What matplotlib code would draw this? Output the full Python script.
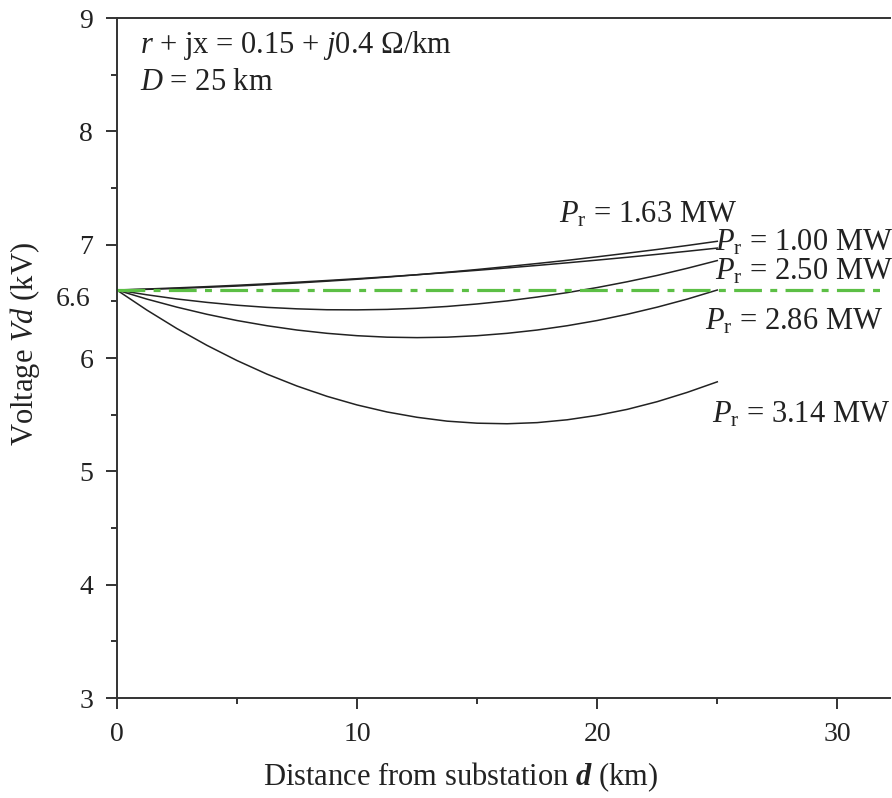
import matplotlib.pyplot as plt
from matplotlib.ticker import MultipleLocator

plt.rcParams['font.family'] = 'Liberation Serif'
plt.rcParams['mathtext.fontset'] = 'custom'
plt.rcParams['mathtext.rm'] = 'Liberation Serif'
plt.rcParams['mathtext.it'] = 'Liberation Serif:italic'
plt.rcParams['mathtext.bf'] = 'Liberation Serif:bold:italic'
plt.rcParams['lines.scale_dashes'] = False

# distance from substation (km) and voltage (kV)
dist = [0, 1.25, 2.5, 3.75, 5, 6.25, 7.5, 8.75, 10, 11.25, 12.5,
        13.75, 15, 16.25, 17.5, 18.75, 20, 21.25, 22.5, 23.75, 25]
v_163 = [6.600, 6.606, 6.614, 6.624, 6.635, 6.648, 6.662, 6.678, 6.695, 6.714, 6.735,
         6.757, 6.781, 6.807, 6.834, 6.862, 6.893, 6.925, 6.958, 6.993, 7.030]
v_100 = [6.600, 6.609, 6.619, 6.630, 6.642, 6.655, 6.669, 6.684, 6.700, 6.717, 6.735,
         6.754, 6.774, 6.795, 6.817, 6.840, 6.864, 6.889, 6.915, 6.942, 6.970]
v_250 = [6.600, 6.558, 6.521, 6.491, 6.466, 6.447, 6.434, 6.426, 6.425, 6.429, 6.439,
         6.455, 6.477, 6.504, 6.538, 6.577, 6.622, 6.673, 6.729, 6.792, 6.860]
v_286 = [6.600, 6.520, 6.449, 6.386, 6.331, 6.285, 6.247, 6.218, 6.197, 6.184, 6.180,
         6.184, 6.197, 6.218, 6.247, 6.285, 6.331, 6.386, 6.449, 6.520, 6.600]
v_314 = [6.600, 6.423, 6.260, 6.112, 5.978, 5.858, 5.753, 5.662, 5.586, 5.524, 5.477,
         5.443, 5.425, 5.420, 5.430, 5.455, 5.494, 5.547, 5.615, 5.697, 5.790]

nominal_x = [0, 31.9]
nominal_v = [6.6, 6.6]

fig = plt.figure(figsize=(8.92, 7.98), dpi=100)
ax = fig.add_axes([0.131, 0.1253, 0.867, 0.8521])

line_col = '#222222'
for v in [v_163, v_100, v_250, v_286, v_314]:
    ax.plot(dist, v, color=line_col, lw=1.1)

ax.plot(nominal_x, nominal_v, color='#5cbf45', lw=2.3,
        dashes=(20, 6, 5, 6))

ax.set_xlim(0, 32.2)
ax.set_ylim(3, 9)
ax.xaxis.set_major_locator(MultipleLocator(10))
ax.xaxis.set_minor_locator(MultipleLocator(5))
ax.yaxis.set_major_locator(MultipleLocator(1))
ax.yaxis.set_minor_locator(MultipleLocator(0.5))

ax.spines['right'].set_visible(False)
for s in ['left', 'bottom', 'top']:
    ax.spines[s].set_linewidth(1.4)
    ax.spines[s].set_color('#333333')
ax.tick_params(which='major', direction='out', length=8, width=1.4,
               colors='#333333', labelsize=20, pad=9, labelcolor='#222222')
ax.tick_params(which='minor', direction='out', length=4, width=1.4,
               colors='#333333')
ax.tick_params(top=False, right=False, which='both')

ax.text(-0.034, 6.52, '6.6', transform=ax.get_yaxis_transform(),
        ha='right', va='center', fontsize=20, color='#222222')

ax.set_xlabel('Distance from substation $\\mathbf{d}$ (km)', fontsize=22,
              color='#222222')
ax.xaxis.set_label_coords(0.444, -0.092)
ax.set_ylabel('Voltage $Vd$ (kV)', fontsize=22, color='#222222')
ax.yaxis.set_label_coords(-0.097, 0.52)

ax.text(0.96, 8.76, '$r$ + jx = 0.15 + $j$0.4 Ω/km', fontsize=22,
        va='center', color='#222222')
ax.text(0.96, 8.43, '$D$ = 25 km', fontsize=22, va='center', color='#222222')

labels = [(18.4, 7.26, '1.63'), (24.9, 7.02, '1.00'), (24.9, 6.76, '2.50'),
          (24.5, 6.32, '2.86'), (24.8, 5.50, '3.14')]
for x, y, p in labels:
    ax.text(x, y, '$P_\\mathrm{r}$ = ' + p + ' MW', fontsize=22,
            va='center', color='#222222', clip_on=False)

fig.savefig('out.png', dpi=100)
